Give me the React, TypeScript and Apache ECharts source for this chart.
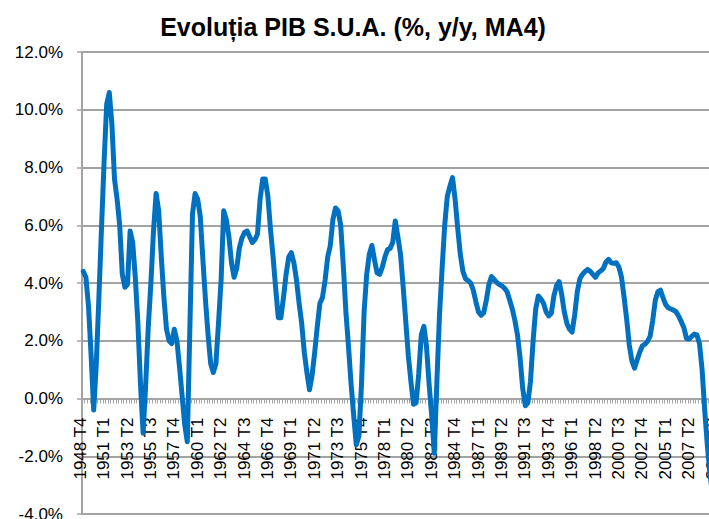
import React, { useEffect, useRef } from "react";
import * as echarts from "echarts";

// Quarterly categories 1948 T4 .. 2009 T3
const startYear = 1948;
const startQuarter = 4;
const quarterCount = 244;
const categories: string[] = [];
for (let k = 0; k < quarterCount; k++) {
  const q0 = startQuarter - 1 + k;
  categories.push(`${startYear + Math.floor(q0 / 4)} T${(q0 % 4) + 1}`);
}

// GDP growth, % y/y, MA4
const values1948_1949 = [4.4, 4.2, 3.2, 1.5, -0.4];
const values1950s = [
  1.2, 3.5, 5.9, 8.2, 10.2, 10.6, 9.5, 7.6, 6.9, 6.0,
  4.3, 3.85, 3.95, 5.8, 5.4, 4.2, 2.6, 0.5, -1.2, 0.5,
  2.5, 4.0, 5.8, 7.1, 6.5, 4.9, 3.5, 2.4, 2.0, 1.9,
  2.4, 2.0, 1.1, 0.1, -0.9, -1.5, 2.5, 6.4, 7.1, 6.9,
];
const values1960s = [
  6.3, 4.8, 3.4, 2.2, 1.2, 0.9, 1.2, 2.6, 4.1, 6.5,
  6.2, 5.6, 4.7, 4.2, 4.5, 5.2, 5.55, 5.75, 5.8, 5.6,
  5.4, 5.5, 5.7, 6.9, 7.6, 7.6, 7.0, 5.85, 4.9, 3.8,
  2.8, 2.8, 3.5, 4.3, 4.9, 5.05, 4.7, 4.1, 3.3, 2.6,
];
const values1970s = [
  1.6, 0.9, 0.3, 0.8, 1.6, 2.5, 3.3, 3.5, 4.1, 4.9,
  5.3, 6.2, 6.6, 6.5, 6.0, 4.6, 3.0, 1.8, 0.5, -0.6,
  -1.6, -1.3, 0.5, 3.0, 4.3, 5.0, 5.3, 4.8, 4.35, 4.3,
  4.55, 4.9, 5.15, 5.2, 5.4, 6.15, 5.6, 5.0, 3.9, 2.7,
];
const values1980s = [
  1.5, 0.6, -0.2, -0.15, 0.85, 2.2, 2.5, 1.8, 0.5, -0.6,
  -1.9, 0.6, 2.9, 4.5, 6.0, 7.0, 7.35, 7.65, 6.9, 5.9,
  5.0, 4.4, 4.15, 4.08, 4.0, 3.75, 3.35, 3.0, 2.88, 2.97,
  3.4, 3.95, 4.22, 4.12, 4.02, 3.95, 3.9, 3.82, 3.7, 3.4,
];
const values1990s = [
  3.1, 2.7, 2.2, 1.4, 0.35, -0.25, -0.15, 0.6, 2.0, 3.1,
  3.55, 3.45, 3.3, 3.0, 2.86, 2.95, 3.55, 3.9, 4.05, 3.6,
  3.0, 2.6, 2.4, 2.3, 2.9, 3.7, 4.15, 4.3, 4.4, 4.47,
  4.4, 4.3, 4.2, 4.35, 4.42, 4.5, 4.72, 4.82, 4.7, 4.68,
];
const values2000s = [
  4.7, 4.55, 4.2, 3.5, 2.74, 1.85, 1.3, 1.05, 1.33, 1.6,
  1.82, 1.88, 1.98, 2.15, 2.7, 3.4, 3.7, 3.75, 3.48, 3.25,
  3.14, 3.1, 3.06, 3.0, 2.85, 2.66, 2.45, 2.08, 2.06, 2.15,
  2.23, 2.2, 1.9, 1.0, -0.4, -1.6, -2.6, -3.3, -3.7,
];
const gdpValues = [
  ...values1948_1949,
  ...values1950s,
  ...values1960s,
  ...values1970s,
  ...values1980s,
  ...values1990s,
  ...values2000s,
];

const yMin = -4;
const yMax = 12;
const yStep = 2;
const titleText = "Evoluția PIB S.U.A. (%, y/y, MA4)";

const FONT = "'Liberation Sans', Arial, sans-serif";
const GRID_GRAY = "#a3a3a3";

const PLOT_LEFT = 82;
const PLOT_TOP = 52;
const PLOT_WIDTH = 634.4;
const PLOT_HEIGHT = 462;
// height of the part of the plot above the zero line
const ZERO_HEIGHT = (PLOT_HEIGHT * yMax) / (yMax - yMin);

export default function App() {
  const ref = useRef<HTMLDivElement>(null);
  useEffect(() => {
    if (!ref.current) return;
    const chart = echarts.init(ref.current, null, { renderer: "svg" });
    chart.setOption({
      animation: false,
      backgroundColor: "#ffffff",
      title: {
        text: titleText,
        left: 348,
        textAlign: "center",
        top: 9,
        textStyle: {
          fontFamily: FONT,
          fontSize: 25,
          fontWeight: "bold",
          color: "#000000",
        },
      },
      grid: [
        {
          left: PLOT_LEFT,
          top: PLOT_TOP,
          width: PLOT_WIDTH,
          height: PLOT_HEIGHT,
          containLabel: false,
          outerBoundsMode: "none",
        },
        {
          left: PLOT_LEFT - 3,
          top: PLOT_TOP,
          width: PLOT_WIDTH,
          height: ZERO_HEIGHT,
          containLabel: false,
          outerBoundsMode: "none",
        },
      ],
      xAxis: [
        {
          type: "category",
          gridIndex: 0,
          data: categories,
          boundaryGap: true,
          axisLine: {
            show: true,
            onZero: true,
            lineStyle: { color: GRID_GRAY, width: 2 },
          },
          axisTick: {
            show: true,
            interval: 0,
            length: 5,
            lineStyle: { color: GRID_GRAY, width: 1 },
          },
          axisLabel: { show: false },
          splitLine: { show: false },
        },
        {
          type: "category",
          gridIndex: 1,
          data: categories,
          boundaryGap: true,
          axisLine: { show: false, onZero: false },
          axisTick: { show: false },
          axisLabel: {
            interval: 8,
            rotate: 90,
            margin: 19,
            fontFamily: FONT,
            fontSize: 17,
            color: "#000000",
          },
          splitLine: { show: false },
        },
      ],
      yAxis: [
        {
          type: "value",
          gridIndex: 0,
          min: yMin,
          max: yMax,
          interval: yStep,
          axisLine: { show: true, lineStyle: { color: GRID_GRAY, width: 2 } },
          axisTick: { show: true, length: 5, lineStyle: { color: GRID_GRAY, width: 1.5 } },
          axisLabel: {
            margin: 19,
            fontFamily: FONT,
            fontSize: 17,
            color: "#000000",
            formatter: (v: number) => v.toFixed(1) + "%",
          },
          splitLine: { show: true, lineStyle: { color: GRID_GRAY, width: 2 } },
        },
        {
          type: "value",
          gridIndex: 1,
          min: 0,
          max: 1,
          show: false,
        },
      ],
      series: [
        {
          type: "line",
          xAxisIndex: 0,
          yAxisIndex: 0,
          data: gdpValues,
          showSymbol: false,
          symbol: "none",
          smooth: false,
          lineStyle: { color: "#0070C0", width: 5, cap: "round", join: "round" },
        },
      ],
    });
    return () => chart.dispose();
  }, []);
  return (
    <div
      ref={ref}
      style={{ position: "absolute", left: 0, top: 0, width: 709, height: 519 }}
    />
  );
}
